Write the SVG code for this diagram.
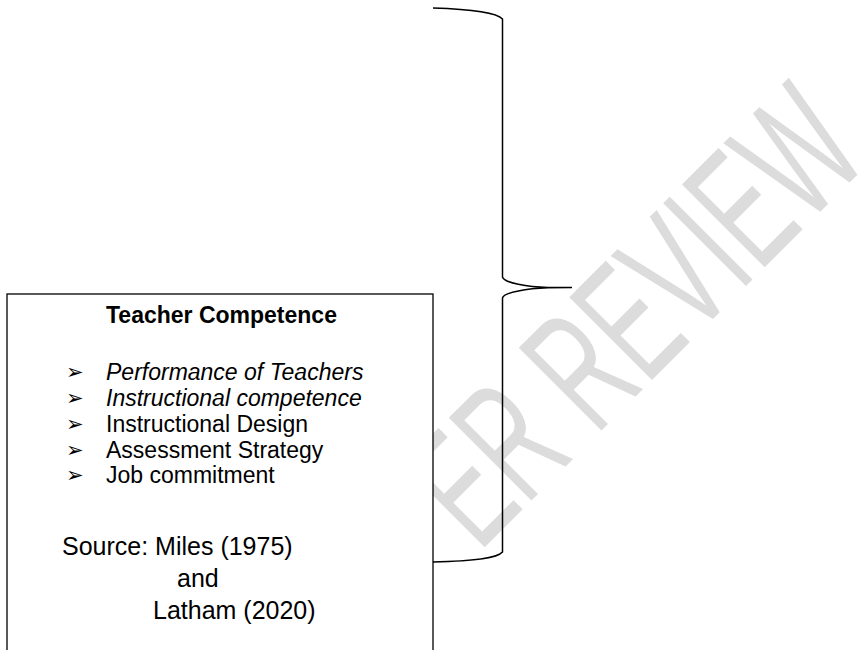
<svg xmlns="http://www.w3.org/2000/svg" width="861" height="650" viewBox="0 0 861 650">
<style>
.t{font-family:"Liberation Sans",Arial,sans-serif;fill:#000}
.li{font-size:23px}
.src{font-size:25px}
.bul{font-family:"DejaVu Sans",sans-serif;font-size:21px;fill:#000}
.wm{font-family:"Liberation Sans",Arial,sans-serif;font-size:100px;fill:#dcdcdc}
</style>
<rect width="861" height="650" fill="#fff"/>
<g id="watermark">
<text class="wm" transform="matrix(0.700,-0.700,1.202,1.202,479,553)">ER REVIEW</text>
</g>
<g id="teacher-competence">
<rect x="7" y="294" width="426" height="400" fill="#fff" stroke="#000" stroke-width="1.3"/>
<text class="t" x="106" y="323" font-size="23" font-weight="bold">Teacher Competence</text>
<text class="bul"><tspan x="66" y="379">➢</tspan><tspan x="66" y="405">➢</tspan><tspan x="66" y="431">➢</tspan><tspan x="66" y="456.5">➢</tspan><tspan x="66" y="482">➢</tspan></text>
<text class="t li" x="106" y="380" font-style="italic">Performance of Teachers</text>
<text class="t li" x="106" y="406" font-style="italic">Instructional competence</text>
<text class="t li" x="106" y="432">Instructional Design</text>
<text class="t li" x="106" y="457.5">Assessment Strategy</text>
<text class="t li" x="106" y="483">Job commitment</text>
<text class="t src" x="62" y="555">Source: Miles (1975)</text>
<text class="t src" x="177" y="587">and</text>
<text class="t src" x="153" y="619">Latham (2020)</text>
</g>
<g id="connectors">
<path d="M433,8 C478,9.5 497,13 502.5,19 L502.5,277 C504,283 528,287 548,287.5 L572,287.5 L548,287.8 C528,288.5 504,292 502.5,298 L502.5,552 C497,558 478,561 433,562" fill="none" stroke="#000" stroke-width="1.5"/>
</g>
</svg>
